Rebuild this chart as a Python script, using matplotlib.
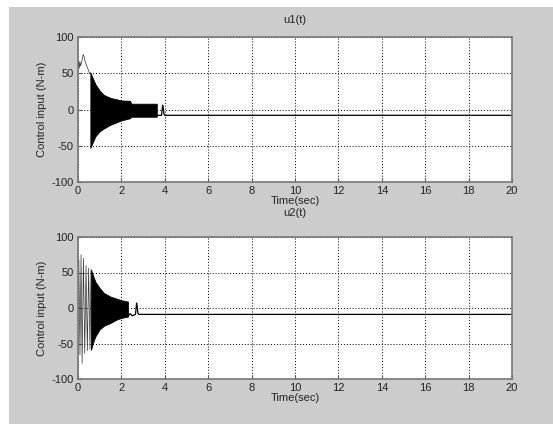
import numpy as np
import matplotlib
matplotlib.use('Agg')
import matplotlib.pyplot as plt
from matplotlib.patches import Rectangle

plt.rcParams['font.family'] = ['Liberation Sans', 'DejaVu Sans']
plt.rcParams['axes.unicode_minus'] = False

# envelope of the fast oscillation, u1
u1_env_t = [0.57, 0.7, 0.8, 1.0, 1.2, 1.5, 2.0, 2.4, 2.45, 3.0, 3.63]
u1_env_hi = [51, 42, 35, 26, 20, 16, 12.5, 12, 8, 8, 8]
u1_env_lo = [-53, -44, -37, -30, -26, -21, -15, -12, -10, -10, -10]
# start-up transient before the band, u1
u1_pre_t = [0.0, 0.03, 0.06, 0.09, 0.12, 0.18, 0.24, 0.27, 0.33, 0.39, 0.47, 0.54, 0.57]
u1_pre_v = [58, 68, 57, 66, 60, 67, 76, 74, 66, 61, 55, 49, 51]
# after the band: settles at a constant
u1_tail_t = [3.63, 3.85, 3.9, 3.93, 3.96, 4.0, 20.0]
u1_tail_v = [-8, -8, 6, 2, -6, -8, -8]

# u2
u2_env_t = [0.6, 0.7, 0.8, 1.0, 1.2, 1.5, 1.8, 2.0, 2.3]
u2_env_hi = [54, 45, 37, 28, 21, 16, 13, 11, 9]
u2_env_lo = [-59, -48, -40, -30, -25, -21, -16, -14, -12]
u2_pre_t = [0.0, 0.04, 0.09, 0.14, 0.19, 0.25, 0.31, 0.37, 0.43, 0.49, 0.55, 0.6]
u2_pre_v = [62, 68, -66, 75, -78, 70, -64, 60, -60, 56, -58, 54]
u2_tail_t = [2.3, 2.4, 2.5, 2.65, 2.7, 2.73, 2.76, 2.8, 20.0]
u2_tail_v = [-12, -8, -11, -9, 7, 2, -7, -9, -9]

xticks = list(range(0, 21, 2))
yticks = [-100, -50, 0, 50, 100]

bg = '#cccccc'
txt = '#222222'
fs = 8

fig = plt.figure(figsize=(5.53, 4.24), dpi=100, facecolor='white')
fig.patches.append(Rectangle((9 / 553, 0), 1, 1 - 7 / 424, transform=fig.transFigure,
                             facecolor=bg, edgecolor='none', zorder=-10))

ax1 = fig.add_axes([78 / 553, 1 - 182 / 424, 434 / 553, 145 / 424])
ax2 = fig.add_axes([78 / 553, 1 - 379 / 424, 434 / 553, 142 / 424])


def draw(ax, env_t, hi, lo, pre_t, pre_v, tail_t, tail_v, title, tpad):
    ax.fill_between(env_t, lo, hi, color='black', lw=0.6)
    ax.plot(pre_t, pre_v, color='#333333', lw=0.5)
    ax.plot(tail_t, tail_v, color='black', lw=0.9)
    ax.set_xlim(0, 20)
    ax.set_ylim(-100, 100)
    ax.set_xticks(xticks)
    ax.set_yticks(yticks)
    ax.grid(True, color='black', linestyle=(0, (1, 2)), lw=0.7)
    ax.tick_params(direction='in', length=3, labelsize=fs, colors='#555555',
                   labelcolor=txt, pad=3)
    for s in ax.spines.values():
        s.set_color('#777777')
        s.set_linewidth(1.2)
    ax.set_title(title, fontsize=fs, color=txt, pad=tpad)
    ax.set_xlabel('Time(sec)', fontsize=fs, color=txt, labelpad=0)
    ax.set_ylabel('Control input (N-m)', fontsize=fs, color=txt, labelpad=3)


draw(ax1, u1_env_t, u1_env_hi, u1_env_lo, u1_pre_t, u1_pre_v, u1_tail_t, u1_tail_v, 'u1(t)', 10)
draw(ax2, u2_env_t, u2_env_hi, u2_env_lo, u2_pre_t, u2_pre_v, u2_tail_t, u2_tail_v, 'u2(t)', 15)

fig.savefig('out.png', dpi=100, facecolor=fig.get_facecolor())
